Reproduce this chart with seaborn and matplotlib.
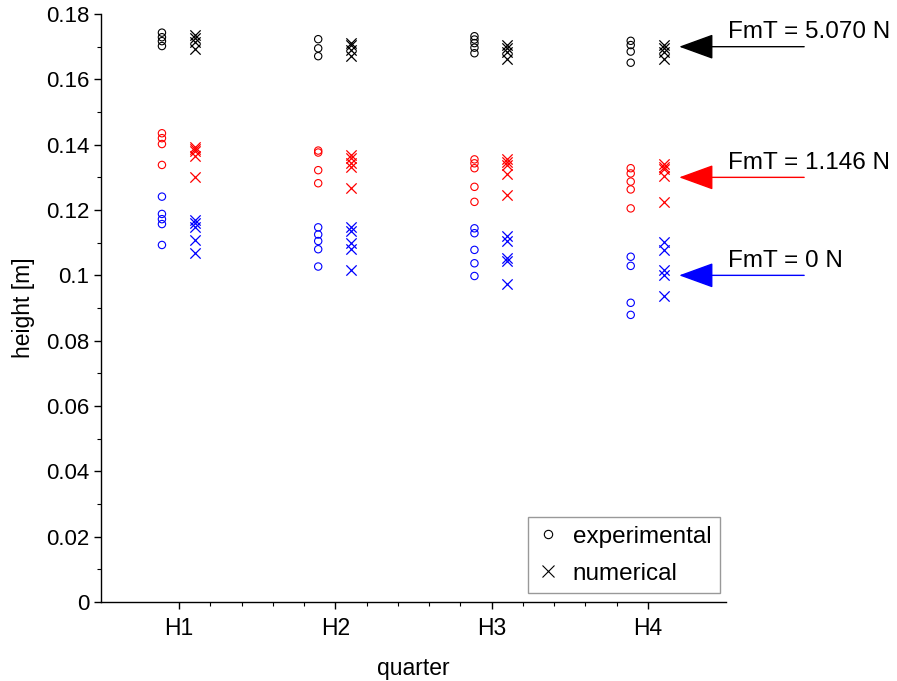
import numpy as np
import pandas as pd
import matplotlib
matplotlib.use('Agg')
import matplotlib.pyplot as plt
from matplotlib.lines import Line2D
from matplotlib.ticker import FuncFormatter, FixedLocator
import seaborn as sns

# 数据
quarters = ['H1', 'H2', 'H3', 'H4']
force_labels = ['FmT = 0 N', 'FmT = 1.146 N', 'FmT = 5.070 N']
force_colors = ['#0000ff', '#ff0000', '#000000']
arrow_y = [0.100, 0.130, 0.170]

# experimental (circles), per quarter
exp_0 = [[0.1241, 0.1188, 0.1172, 0.1157, 0.1093],
         [0.1147, 0.1125, 0.1105, 0.1080, 0.1027],
         [0.1144, 0.1129, 0.1078, 0.1037, 0.0998],
         [0.1057, 0.1029, 0.0916, 0.0879]]
exp_1146 = [[0.1435, 0.1420, 0.1402, 0.1338],
            [0.1382, 0.1376, 0.1322, 0.1282],
            [0.1355, 0.1343, 0.1328, 0.1271, 0.1225],
            [0.1328, 0.1312, 0.1287, 0.1263, 0.1205]]
exp_5070 = [[0.1743, 0.1729, 0.1717, 0.1702],
            [0.1723, 0.1695, 0.1671],
            [0.1732, 0.1722, 0.1711, 0.1697, 0.1680],
            [0.1718, 0.1705, 0.1685, 0.1651]]

# numerical (crosses), per quarter
num_0 = [[0.1169, 0.1159, 0.1147, 0.1108, 0.1067],
         [0.1147, 0.1137, 0.1098, 0.1080, 0.1015],
         [0.1120, 0.1105, 0.1052, 0.1045, 0.0975],
         [0.1103, 0.1078, 0.1016, 0.1001, 0.0937]]
num_1146 = [[0.1394, 0.1388, 0.1382, 0.1365, 0.1302],
            [0.1368, 0.1358, 0.1345, 0.1331, 0.1266],
            [0.1355, 0.1348, 0.1338, 0.1310, 0.1246],
            [0.1341, 0.1333, 0.1325, 0.1305, 0.1225]]
num_5070 = [[0.1736, 0.1728, 0.1715, 0.1692],
            [0.1712, 0.1705, 0.1690, 0.1670],
            [0.1705, 0.1697, 0.1685, 0.1662],
            [0.1705, 0.1697, 0.1685, 0.1662]]

experimental = [exp_0, exp_1146, exp_5070]
numerical = [num_0, num_1146, num_5070]

rows = []
for kind, groups in [('experimental', experimental), ('numerical', numerical)]:
    for f, per_q in zip(force_labels, groups):
        for qi, vals in enumerate(per_q):
            for v in vals:
                rows.append({'kind': kind, 'force': f, 'quarter': qi + 1, 'height': v})
df = pd.DataFrame(rows)
offsets = {'experimental': -0.11, 'numerical': 0.10}
df['xpos'] = df['quarter'] + df['kind'].map(offsets)

sns.set_style('ticks')
plt.rcParams['font.family'] = ['Liberation Sans', 'DejaVu Sans']
plt.rcParams['text.color'] = 'black'
plt.rcParams['axes.labelcolor'] = 'black'
plt.rcParams['xtick.color'] = 'black'
plt.rcParams['ytick.color'] = 'black'

fig = plt.figure(figsize=(8.97, 6.81), dpi=100)
ax = fig.add_axes([0.1126, 0.116, 0.6968, 0.8634])

for f, c in zip(force_labels, force_colors):
    sub = df[(df['force'] == f) & (df['kind'] == 'experimental')]
    sns.scatterplot(data=sub, x='xpos', y='height', marker='o', s=28,
                    color=c, facecolor='none', edgecolor=c, linewidth=0.8,
                    legend=False, ax=ax)
    sub = df[(df['force'] == f) & (df['kind'] == 'numerical')]
    sns.scatterplot(data=sub, x='xpos', y='height', marker='x', s=55,
                    color=c, linewidth=0.9, legend=False, ax=ax)

ax.set_xlim(0.5, 4.5)
ax.set_ylim(0, 0.18)
ax.set_xticks([1, 2, 3, 4])
ax.set_xticklabels(quarters)
ax.xaxis.set_minor_locator(FixedLocator([x for x in np.arange(1, 4.01, 0.2)
                                         if abs(x - round(x)) > 1e-6]))
ax.set_yticks(np.arange(0, 0.181, 0.02))
ax.yaxis.set_minor_locator(FixedLocator(np.arange(0.01, 0.18, 0.02)))
ax.yaxis.set_major_formatter(FuncFormatter(lambda v, p: '{:g}'.format(round(v, 3))))
ax.tick_params(which='major', direction='out', length=5, width=1, labelsize=16, color='black')
ax.tick_params(which='major', axis='x', labelsize=16.5, pad=6)
ax.tick_params(which='minor', direction='out', length=3, width=0.8, color='black')
sns.despine(ax=ax)
for s in ['left', 'bottom']:
    ax.spines[s].set_color('black')
    ax.spines[s].set_linewidth(1)

ax.set_xlabel('quarter', fontsize=16.5, labelpad=12)
ax.set_ylabel('height [m]', fontsize=16.5, labelpad=8)

# 箭头和标注
for f, c, y in zip(force_labels, force_colors, arrow_y):
    line_c = '#555555' if c == '#000000' else c
    ax.annotate('', xy=(4.2, y), xytext=(5.0, y), annotation_clip=False,
                arrowprops=dict(arrowstyle='-|>,head_length=1.1,head_width=0.4',
                                mutation_scale=20, color=line_c, fc=c, ec=c, lw=1,
                                shrinkA=0, shrinkB=0))
    ax.text(4.51, y + 0.0026, f, fontsize=17.5, ha='left', va='baseline',
            clip_on=False)

handles = [Line2D([], [], ls='none', marker='o', mfc='none', mec='black', ms=6, mew=0.8),
           Line2D([], [], ls='none', marker='x', color='black', ms=8, mew=0.8)]
leg = ax.legend(handles, ['experimental', 'numerical'], loc='lower right',
                bbox_to_anchor=(0.99, 0.015), borderaxespad=0, fontsize=17.5,
                frameon=True, fancybox=False, edgecolor='#808080',
                handlelength=1.0, handletextpad=0.5, labelspacing=0.62,
                borderpad=0.35)
leg.get_frame().set_linewidth(1)

fig.savefig('out.png', dpi=100)
